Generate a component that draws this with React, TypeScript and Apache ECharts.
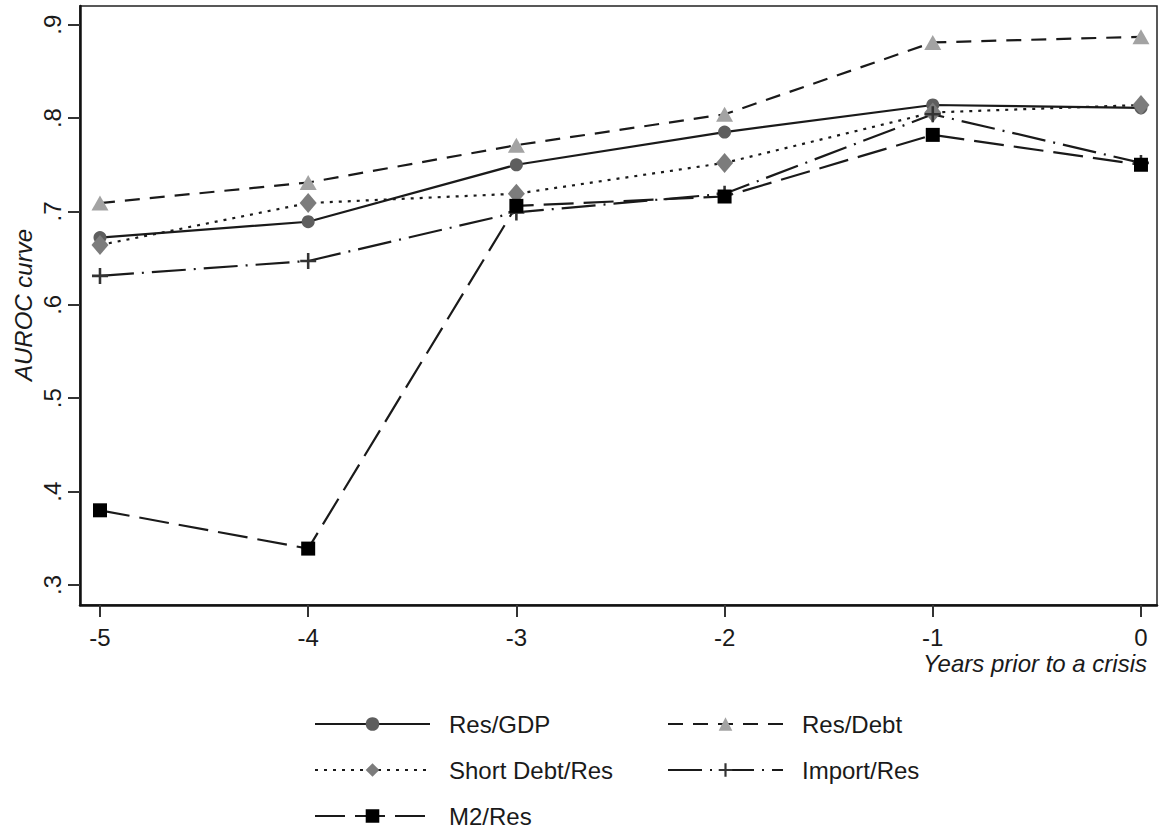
import React, { useEffect, useRef } from "react";
import * as echarts from "echarts";

const years = [-5, -4, -3, -2, -1, 0];
const yTicks = [0.3, 0.4, 0.5, 0.6, 0.7, 0.8, 0.9];

const resGdp = [0.672, 0.689, 0.75, 0.785, 0.814, 0.811];
const resDebt = [0.709, 0.731, 0.771, 0.804, 0.881, 0.887];
const shortDebtRes = [0.664, 0.709, 0.719, 0.752, 0.806, 0.814];
const importRes = [0.631, 0.647, 0.699, 0.719, 0.804, 0.752];
const m2Res = [0.38, 0.339, 0.706, 0.716, 0.782, 0.75];

const legendCol1 = ["Res/GDP", "Short Debt/Res", "M2/Res"];
const legendCol2 = ["Res/Debt", "Import/Res"];

const FONT = "Liberation Sans, Arial, sans-serif";
const LINE = "#1a1a1a";

const pairs = (vals: number[]) => years.map((x, i) => [x, vals[i]]);

export default function App() {
  const ref = useRef<HTMLDivElement>(null);
  useEffect(() => {
    if (!ref.current) return;
    const chart = echarts.init(ref.current, null, { renderer: "svg" });
    const mk = (
      name: string,
      vals: number[],
      symbol: string,
      size: number | number[],
      color: string,
      type: any
    ) => ({
      name,
      type: "line",
      data: pairs(vals),
      symbol,
      symbolSize: size,
      showAllSymbol: true,
      itemStyle: { color, opacity: 1 },
      lineStyle: { color: LINE, width: 2.2, type },
      emphasis: { disabled: true },
      z: 2,
    });
    const rowTops = [707, 753, 799];
    const legendOne = (name: string, left: number, top: number) => ({
      orient: "horizontal",
      left,
      top,
      itemWidth: 115,
      itemHeight: 17,
      textStyle: {
        fontFamily: FONT,
        fontSize: 24,
        color: "#1a1a1a",
        padding: [0, 0, 0, 14],
      },
      selectedMode: false,
      data: [name],
    });
    const legends = [
      ...legendCol1.map((n, i) => legendOne(n, 309, rowTops[i])),
      ...legendCol2.map((n, i) => legendOne(n, 662, rowTops[i])),
    ];
    chart.setOption({
      animation: false,
      backgroundColor: "#fff",
      grid: {
        left: 80,
        right: 2,
        top: 6,
        bottom: 225,
        show: true,
        borderColor: "#222",
        borderWidth: 1.5,
        containLabel: false,
        outerBoundsMode: "none",
      },
      xAxis: {
        type: "value",
        min: -5.096,
        max: 0.077,
        splitLine: { show: false },
        axisLine: { show: true, onZero: false, lineStyle: { color: "#111", width: 2.5 } },
        axisTick: { show: true, length: 12, customValues: years, lineStyle: { color: "#333", width: 2 } },
        axisLabel: {
          customValues: years,
          margin: 20,
          fontFamily: FONT,
          fontSize: 24,
          color: "#1a1a1a",
          formatter: (v: number) => String(Math.round(v)),
        },
      },
      yAxis: {
        type: "value",
        min: 0.2786,
        max: 0.92,
        splitLine: { show: false },
        axisLine: { show: true, onZero: false, lineStyle: { color: "#111", width: 2.5 } },
        axisTick: { show: true, length: 12, customValues: yTicks, lineStyle: { color: "#333", width: 2 } },
        axisLabel: {
          customValues: yTicks,
          rotate: 90,
          margin: 16,
          fontFamily: FONT,
          fontSize: 24,
          color: "#1a1a1a",
          formatter: (v: number) => "." + Math.round(v * 10),
        },
      },
      legend: legends,
      graphic: [
        {
          type: "text",
          x: 1147,
          y: 663,
          style: {
            text: "Years prior to a crisis",
            fontFamily: FONT,
            fontSize: 24,
            fontStyle: "italic",
            fill: "#1a1a1a",
            align: "right",
            verticalAlign: "middle",
          },
        },
        {
          type: "text",
          x: 23,
          y: 305,
          rotation: Math.PI / 2,
          style: {
            text: "AUROC curve",
            fontFamily: FONT,
            fontSize: 24,
            fontStyle: "italic",
            fill: "#1a1a1a",
            align: "center",
            verticalAlign: "middle",
          },
        },
      ],
      series: [
        mk("Res/GDP", resGdp, "circle", 13, "#5e5e5e", "solid"),
        mk("Res/Debt", resDebt, "triangle", [17, 15], "#a3a3a3", [15, 10]),
        mk("Short Debt/Res", shortDebtRes, "diamond", [17, 20], "#7c7c7c", [3, 6]),
        mk(
          "Import/Res",
          importRes,
          "path://M4.2,0H5.8V4.2H10V5.8H5.8V10H4.2V5.8H0V4.2H4.2Z",
          16,
          "#333333",
          [34, 8, 2, 8]
        ),
        mk("M2/Res", m2Res, "rect", 14, "#000000", [30, 10]),
      ],
    });
    return () => chart.dispose();
  }, []);
  return (
    <div
      ref={ref}
      style={{ position: "fixed", left: 0, top: 0, width: 1159, height: 830 }}
    />
  );
}
